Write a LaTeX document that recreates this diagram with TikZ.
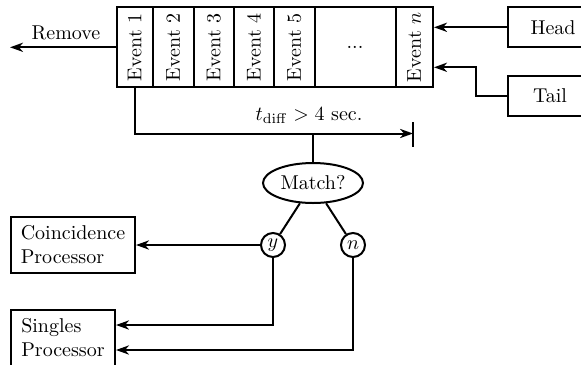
\documentclass[tikz,border=0pt]{standalone}
\usetikzlibrary{arrows.meta,shapes.geometric}
\begin{document}
\begin{tikzpicture}[x=0.5pt,y=-0.5pt,
  line width=1pt,
  arr/.style={-{Stealth[length=6.5pt,width=4.6pt,inset=2pt]}},
  cell/.style={draw,inner sep=0pt,minimum height=40pt},
  box/.style={draw,inner sep=0pt,minimum height=20pt},
  proc/.style={draw,inner sep=0pt,minimum height=28pt,align=left},
  choice/.style={draw,circle,inner sep=0pt,minimum size=12pt},
]
\useasboundingbox (0,0) rectangle (581,364);
\clip (0,0) rectangle (581,364);

% event buffer
\node[cell,minimum width=18.25pt] (e1) at (134.75,47.3) {\rotatebox{90}{Event 1}};
\node[cell,minimum width=20.25pt] (e2) at (173.25,47.3) {\rotatebox{90}{Event 2}};
\node[cell,minimum width=20.25pt] (e3) at (213.75,47.3) {\rotatebox{90}{Event 3}};
\node[cell,minimum width=20pt]    (e4) at (254,47.3)    {\rotatebox{90}{Event 4}};
\node[cell,minimum width=20.25pt] (e5) at (294.25,47.3) {\rotatebox{90}{Event 5}};
\node[cell,minimum width=40.5pt]  (ed) at (355,47.3)    {...};
\node[cell,minimum width=18.75pt] (en) at (414.25,47.3) {\rotatebox{90}{Event $n$}};

% removal on the left
\coordinate (rm) at (10,47.3);
\draw[arr] (e1.west) -- (rm);
\node (rmlabel) at (66,33) {Remove};

% head and tail pointers
\node[box,minimum width=45pt] (head) at (553,27.3) {Head};
\node[box,minimum width=42pt] (tail) at (550,96) {Tail};
\draw[arr] (head.west) -- ([yshift=10pt]en.east);
\draw[arr] (tail.west) -- ++(-31,0) |- ([yshift=-10pt]en.east);

% time window
\coordinate (bar) at (413,133.5);
\coordinate (split) at (313,133.5);
\draw[arr] (e1.south) |- (bar);
\draw (bar) ++(0,-11.5) -- ++(0,25);
\node (tlabel) at (309,116) {$t_{\mathrm{diff}} > 4$ sec.};

% match decision
\node[draw,ellipse,inner sep=0pt,minimum width=50pt,minimum height=20pt] (match) at (313,183) {Match?};
\draw (split) -- (match);
\node[choice] (yes) at (273,245) {$y$};
\node[choice] (no)  at (353,245) {$n$};
\draw (match) -- (yes);
\draw (match) -- (no);

% processors
\node[proc,minimum width=62pt] (coin) at (73,245) {Coincidence\\Processor};
\node[proc,minimum width=52pt] (sing) at (63,338) {Singles\\Processor};
\draw[arr] (yes) -- (coin);
\draw[arr] (yes.south) |- ([yshift=6.5pt]sing.east);
\draw[arr] (no.south) |- ([yshift=-6pt]sing.east);
\end{tikzpicture}
\end{document}
